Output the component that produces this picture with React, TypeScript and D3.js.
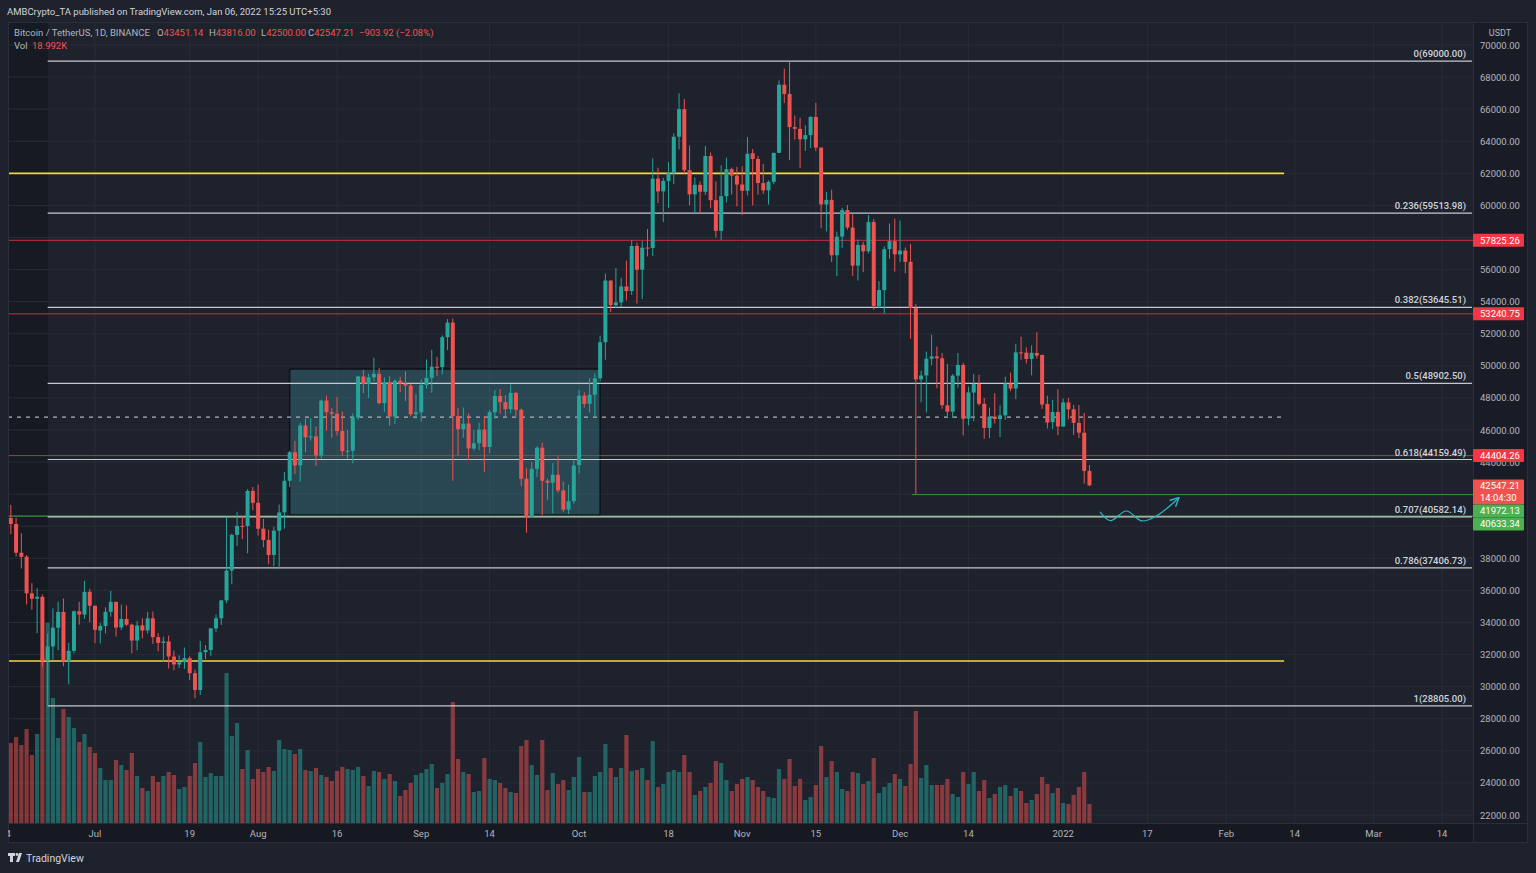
import { useEffect, useRef } from "react";
import * as d3 from "d3";

// daily candles, BTCUSDT, 2021-06-14 .. 2022-01-06
const firstDay = "2021-06-14";

const opens = [
  39097, 40516, 40143, 38349, 38100, 35820, 35483, 35600, 31614, 32509, 33675, 34663, 31576, 32233, 34700, 34494, 35912,
  35045, 33503, 33786, 34668, 35288, 33690, 34221, 33863, 32875, 33824, 33502, 34259, 33086, 32730, 32820, 31874, 31383, 31520, 31779, 30838, 29790, 32144, 32287, 33634, 34261, 35381, 37241, 39456, 40019, 40018, 42206,
  41461, 39850, 39146, 38207, 39723, 40865, 42832, 44614, 43794, 46280, 45543, 45603, 44415, 47835, 47110, 47015, 45937, 44687, 44709, 46770, 49340, 48867, 49284, 49507, 47674, 48973, 46843, 49070, 48896, 48767, 46982,
  47100, 48811, 49246, 49942, 49921, 51786, 52698, 46869, 46048, 46396, 44842, 45174, 46026, 44940, 47103, 48122, 47737, 47299, 48314, 47255, 42966, 40584, 43580, 44896, 42840, 42716, 43208, 42236, 41035, 41565,
  43820, 48142, 47633, 48200, 49224, 51471, 55315, 53785, 53955, 54949, 54659, 57471, 55996, 57370, 57347, 61672, 60875, 61528, 62005, 64280, 66002, 62193, 60689, 61286, 60852, 63079, 60328, 58413, 60575, 62253, 61859,
  61300, 60911, 63254, 62896, 61395, 60940, 61470, 63274, 67525, 66947, 64883, 64774, 64122, 64381, 65520, 63606, 60059, 60345, 56892, 58057, 59707, 58617, 56247, 57541, 57138, 58960, 53723, 54716, 57274, 57776,
  56951, 57185, 56485, 53601, 49153, 49397, 50441, 50588, 50472, 47535, 47141, 49389, 50053, 46702, 48336, 48864, 47633, 46134, 46835, 46681, 46914, 48887, 48588, 50839, 50820, 50428, 50802, 50679, 47623, 46490, 47120,
  46216, 47722, 47286, 46446, 45832, 43451.14,
];
const highs = [
  41064, 41330, 40527, 39560, 38203, 36457, 36137, 35750, 33298, 34881, 35298, 35500, 32730, 34750, 35297, 36600, 36100,
  35057, 33977, 34945, 35967, 35293, 35118, 35059, 33917, 34100, 34262, 34666, 34679, 33340, 33114, 33185, 32249, 31955, 32435, 31899, 31063, 32859, 32591, 33650, 34500, 35398, 40550, 39542, 40900, 40640, 42316, 42448,
  42599, 40456, 39780, 39969, 41350, 43392, 44700, 45310, 46454, 46700, 46743, 46218, 47887, 48144, 47373, 48053, 47160, 46000, 47033, 49382, 49757, 49500, 50500, 49876, 49277, 49352, 49149, 49307, 49653, 48888, 48246,
  49150, 50400, 51000, 50558, 51900, 52920, 52944, 47376, 47399, 47034, 45987, 46460, 46876, 47250, 48487, 48557, 48170, 48843, 48372, 47347, 43639, 44000, 44978, 45200, 42967, 43937, 44350, 42787, 42590, 44141,
  48495, 48353, 49228, 49536, 51886, 55750, 55333, 56100, 55489, 56561, 57839, 57680, 57777, 58532, 62933, 62350, 61720, 62695, 64486, 67000, 66639, 63732, 61747, 61500, 63710, 63293, 61497, 62499, 62980, 62359, 62405,
  62437, 64270, 63516, 63086, 62595, 61560, 63286, 67789, 68525, 69000, 65600, 65460, 64990, 65550, 66401, 63617, 60840, 60977, 58367, 59846, 60029, 59444, 57875, 57735, 59398, 59150, 55280, 57445, 58865, 59176,
  59053, 57375, 57600, 53859, 49699, 50891, 51936, 51200, 50797, 50125, 49485, 50800, 50189, 48700, 49500, 49436, 47995, 47392, 48300, 47537, 49328, 49576, 51375, 51810, 51156, 51280, 52088, 50704, 48139, 47879, 48548,
  47954, 47990, 47570, 47557, 47070, 43816,
];
const lows = [
  38730, 39506, 38116, 37365, 35129, 34803, 33336, 31251, 28805, 31683, 32286, 31275, 30151, 32071, 33862, 34225, 34017,
  32712, 32700, 33316, 34357, 33125, 33533, 33777, 32081, 32261, 33005, 33306, 32658, 32202, 31550, 31133, 31020, 31164, 31108, 30408, 29278, 29482, 31708, 31925, 33402, 33851, 35205, 36383, 38772, 39200, 38313, 41000,
  39422, 38690, 37642, 37508, 37332, 39853, 42446, 43261, 42779, 44613, 45341, 43770, 44218, 45971, 45525, 45660, 44376, 44203, 43927, 46622, 48290, 48000, 49034, 47600, 47126, 46250, 46361, 48370, 47801, 46853, 46700,
  46512, 48584, 48316, 49370, 49462, 50969, 42843, 44412, 45514, 44132, 44722, 44742, 43370, 44550, 46719, 47021, 46750, 47033, 46830, 42500, 39600, 40565, 43069, 40675, 41646, 40803, 42098, 40888, 40753, 41410,
  43283, 47400, 47088, 46891, 49022, 50382, 53357, 53617, 53661, 54080, 54416, 53879, 54167, 56818, 56850, 60150, 58963, 59844, 61322, 63481, 62000, 60000, 59562, 59510, 60650, 59817, 58000, 57820, 60174, 60673, 59945,
  59405, 60624, 60000, 60677, 60721, 60050, 61322, 63273, 66382, 62822, 64100, 62333, 63400, 63576, 63400, 58574, 58373, 56475, 55600, 57353, 58486, 55610, 55317, 55837, 57000, 53500, 53610, 53256, 56666, 55875,
  56458, 55777, 51680, 42000, 47727, 47100, 50039, 48600, 47320, 46852, 46751, 48638, 45672, 46290, 46547, 47511, 45456, 45500, 46406, 45558, 46630, 48421, 47920, 50384, 50142, 49412, 50449, 47313, 46096, 46060, 45678,
  46208, 46654, 45696, 45500, 42645, 42500,
];
const closes = [
  40519, 40144, 38349, 38092, 35820, 35483, 35600, 31608, 32509, 33678, 34663, 31584, 32233, 34700, 34494, 35911, 35046,
  33543, 33786, 34669, 35286, 33690, 34220, 33863, 32875, 33815, 33502, 34259, 33086, 32730, 32820, 31880, 31383, 31520, 31779, 30839, 29790, 32144, 32287, 33634, 34259, 35381, 37237, 39457, 40019, 40016, 42206, 41461,
  39845, 39147, 38207, 39723, 40862, 42836, 44614, 43792, 46285, 45543, 45602, 44415, 47833, 47110, 47015, 45937, 44686, 44709, 46765, 49340, 48867, 49285, 49507, 47674, 48973, 46843, 49069, 48895, 48767, 46982, 47100,
  48810, 49247, 49942, 49923, 51785, 52698, 46869, 46048, 46395, 44851, 45174, 46025, 44940, 47112, 48122, 47738, 47299, 48314, 47255, 42965, 40588, 43580, 44895, 42840, 42716, 43208, 42235, 41034, 41564, 43790,
  48141, 47634, 48200, 49224, 51471, 55315, 53785, 53951, 54949, 54659, 57471, 55996, 57367, 57347, 61672, 60875, 61528, 62010, 64280, 66002, 62194, 60688, 61286, 60852, 63078, 60328, 58413, 60575, 62253, 61859, 61300,
  60911, 63219, 62896, 61395, 60937, 61470, 63273, 67525, 66947, 64882, 64774, 64122, 64380, 65519, 63606, 60058, 60345, 56891, 58052, 59707, 58623, 56247, 57541, 57138, 58960, 53726, 54721, 57274, 57776, 56950,
  57184, 56480, 53601, 49152, 49397, 50441, 50589, 50471, 47545, 47140, 49389, 50053, 46702, 48343, 48864, 47632, 46131, 46834, 46681, 46914, 48890, 48588, 50838, 50821, 50429, 50809, 50640, 47588, 46464, 47120, 46216,
  47722, 47286, 46446, 45833, 43451, 42547.21,
];
// volume in thousands of BTC
const volumes = [
  70, 80, 86, 78, 94, 68, 89, 166, 200, 125, 85, 114, 106, 95, 81, 89, 76,
  70, 55, 43, 43, 63, 58, 53, 70, 47, 35, 32, 47, 41, 47, 51, 48, 34, 36, 47, 60, 81, 46, 50, 47, 47, 150, 87, 100, 54, 73, 44,
  54, 51, 56, 52, 83, 74, 73, 69, 74, 53, 52, 55, 48, 46, 42, 52, 56, 54, 53, 56, 47, 37, 52, 51, 44, 49, 42, 27, 33, 40, 48,
  50, 54, 59, 35, 40, 49, 121, 64, 51, 49, 31, 32, 65, 44, 43, 40, 35, 31, 30, 77, 83, 58, 48, 83, 33, 50, 39, 43, 33, 46,
  66, 31, 31, 47, 51, 79, 55, 46, 55, 88, 52, 53, 55, 43, 82, 36, 39, 51, 53, 51, 68, 51, 28, 32, 36, 40, 62, 60, 43, 32, 39,
  44, 46, 43, 36, 32, 26, 25, 54, 44, 64, 37, 44, 23, 26, 38, 77, 46, 62, 51, 34, 32, 51, 50, 39, 42, 65, 30, 36, 40, 49,
  44, 37, 59, 112, 45, 58, 38, 38, 38, 44, 29, 26, 51, 39, 51, 32, 43, 25, 29, 36, 38, 27, 35, 32, 20, 23, 29, 46, 39, 30, 35,
  20, 19, 28, 36, 51, 19,
];

const tickDates = ["2021-06-14", "2021-07-01", "2021-07-19", "2021-08-01", "2021-08-16", "2021-09-01", "2021-09-14", "2021-10-01", "2021-10-18", "2021-11-01", "2021-11-15", "2021-12-01", "2021-12-14", "2022-01-01", "2022-01-17", "2022-02-01", "2022-02-14", "2022-03-01", "2022-03-14"];
const tickLabels = ["14", "Jul", "19", "Aug", "16", "Sep", "14", "Oct", "18", "Nov", "15", "Dec", "14", "2022", "17", "Feb", "14", "Mar", "14"];

const fibRatios = ["0", "0.236", "0.382", "0.5", "0.618", "0.707", "0.786", "1"];
const fibPrices = [69000, 59513.98, 53645.51, 48902.5, 44159.49, 40582.14, 37406.73, 28805];

const redLevels = [57825.26, 53240.75, 44404.26];
const yellowLevels = [62000, 31600];
const dashedLevel = 46800;
const greenLevels = [40633.34];
const rayLevel = 41972.13;
const lastPrice = 42547.21;

const boxDates = ["2021-08-07", "2021-10-05"];
const boxPrices = [49800, 40700];

const waveDates = ["2022-01-08", "2022-01-10", "2022-01-13", "2022-01-16", "2022-01-19", "2022-01-23"];
const wavePrices = [40900, 40350, 40950, 40330, 40700, 41780];

const UP = "#26a69a";
const DOWN = "#ef5350";

export default function App() {
  const ref = useRef<SVGSVGElement>(null);

  useEffect(() => {
    if (!ref.current) return;
    const svg = d3.select(ref.current);
    svg.selectAll("*").remove();

    const parse = d3.utcParse("%Y-%m-%d");
    const start = parse(firstDay)!;
    const dates = opens.map((_, i) => d3.utcDay.offset(start, i));

    const left = 8, right = 1473, top = 22, bottom = 823;

    const x = d3.scaleUtc()
      .domain([parse("2021-07-01")!, parse("2022-03-14")!])
      .range([95, 1442]);
    const y = d3.scaleLinear().domain([22000, 70000]).range([815, 45]);
    const yv = d3.scaleLinear().domain([0, 150]).range([bottom, 673]);

    const font = "Roboto, 'Noto Sans', sans-serif";

    svg.append("rect").attr("width", 1536).attr("height", 873).attr("fill", "#1e222d");

    const defs = svg.append("defs");
    defs.append("clipPath").attr("id", "plot")
      .append("rect").attr("x", left).attr("y", top).attr("width", right - left).attr("height", bottom - top);
    defs.append("clipPath").attr("id", "xaxis")
      .append("rect").attr("x", left).attr("y", bottom).attr("width", right - left).attr("height", 22);
    defs.append("marker").attr("id", "arrowhead")
      .attr("viewBox", "0 0 10 10").attr("refX", 9).attr("refY", 5)
      .attr("markerWidth", 9).attr("markerHeight", 9).attr("orient", "auto")
      .append("path").attr("d", "M1,1 L9,5 L1,9").attr("fill", "none")
      .attr("stroke", "#2cb5c9").attr("stroke-width", 1.3);

    // panel background + darker strip on the left
    svg.append("rect").attr("x", left).attr("y", top).attr("width", right - left).attr("height", bottom - top)
      .attr("fill", "#1e222d");
    svg.append("rect").attr("x", left).attr("y", top).attr("width", 40).attr("height", bottom - top)
      .attr("fill", "#161a23");

    const plot = svg.append("g").attr("clip-path", "url(#plot)");

    // grid
    plot.selectAll(".hgrid")
      .data(d3.range(22000, 70001, 2000))
      .enter().append("line")
      .attr("x1", left).attr("x2", right)
      .attr("y1", d => y(d)).attr("y2", d => y(d))
      .attr("stroke", "#282c37").attr("stroke-width", 1);
    plot.selectAll(".vgrid")
      .data(tickDates)
      .enter().append("line")
      .attr("x1", d => x(parse(d)!)).attr("x2", d => x(parse(d)!))
      .attr("y1", top).attr("y2", bottom)
      .attr("stroke", "#282c37").attr("stroke-width", 1);

    // volume
    plot.selectAll(".vol")
      .data(volumes)
      .enter().append("rect")
      .attr("x", (d, i) => x(dates[i]) - 2.1)
      .attr("width", 4.2)
      .attr("y", d => yv(d))
      .attr("height", d => bottom - yv(d))
      .attr("fill", (d, i) => closes[i] >= opens[i] ? UP : DOWN)
      .attr("opacity", 0.5);

    // range box
    const bx0 = x(parse(boxDates[0])!), bx1 = x(parse(boxDates[1])!);
    plot.append("rect")
      .attr("x", bx0).attr("y", y(boxPrices[0]))
      .attr("width", bx1 - bx0).attr("height", y(boxPrices[1]) - y(boxPrices[0]))
      .attr("fill", "rgba(77,182,200,0.25)")
      .attr("stroke", "#101218").attr("stroke-width", 1.5);

    const endShort = x(parse("2022-02-12")!);
    const fibStart = x(dates[8]);

    // horizontal levels
    plot.selectAll(".yellow").data(yellowLevels).enter().append("line")
      .attr("x1", left).attr("x2", endShort)
      .attr("y1", d => y(d)).attr("y2", d => y(d))
      .attr("stroke", "#f2d83b").attr("stroke-width", 1.6);
    plot.append("line")
      .attr("x1", left).attr("x2", endShort)
      .attr("y1", y(dashedLevel)).attr("y2", y(dashedLevel))
      .attr("stroke", "#aeb2bb").attr("stroke-width", 1.4).attr("stroke-dasharray", "4,5");
    plot.selectAll(".red").data(redLevels).enter().append("line")
      .attr("x1", left).attr("x2", right)
      .attr("y1", d => y(d)).attr("y2", d => y(d))
      .attr("stroke", "#c2323c").attr("stroke-width", 1);
    plot.selectAll(".green").data(greenLevels).enter().append("line")
      .attr("x1", left).attr("x2", right)
      .attr("y1", d => y(d)).attr("y2", d => y(d))
      .attr("stroke", "#4caf50").attr("stroke-width", 1);
    plot.append("line")
      .attr("x1", x(dates[173]) - 4).attr("x2", right)
      .attr("y1", y(rayLevel)).attr("y2", y(rayLevel))
      .attr("stroke", "#3f8f45").attr("stroke-width", 1);
    plot.selectAll(".fib").data(fibPrices).enter().append("line")
      .attr("x1", fibStart).attr("x2", right - 1)
      .attr("y1", d => y(d)).attr("y2", d => y(d))
      .attr("stroke", "#c5c8cf").attr("stroke-width", 1.2);

    // candles
    const candles = plot.selectAll(".candle")
      .data(opens)
      .enter().append("g");
    candles.append("line")
      .attr("x1", (d, i) => x(dates[i])).attr("x2", (d, i) => x(dates[i]))
      .attr("y1", (d, i) => y(highs[i])).attr("y2", (d, i) => y(lows[i]))
      .attr("stroke", (d, i) => closes[i] >= opens[i] ? UP : DOWN)
      .attr("stroke-width", 1);
    candles.append("rect")
      .attr("x", (d, i) => x(dates[i]) - 2)
      .attr("width", 4)
      .attr("y", (d, i) => y(Math.max(opens[i], closes[i])))
      .attr("height", (d, i) => Math.max(1, Math.abs(y(opens[i]) - y(closes[i]))))
      .attr("fill", (d, i) => closes[i] >= opens[i] ? UP : DOWN);

    // fib labels
    plot.selectAll(".fibLabel").data(fibPrices).enter().append("text")
      .attr("x", 1466).attr("y", d => y(d) - 4)
      .attr("text-anchor", "end")
      .attr("fill", "#d1d4dc").attr("font-size", 9.5).attr("font-family", font).attr("font-weight", 500)
      .text((d, i) => `${fibRatios[i]}(${d3.format(".2f")(d)})`);

    // expected path
    const wave = d3.line<number>()
      .x((d, i) => x(parse(waveDates[i])!))
      .y(d => y(d))
      .curve(d3.curveCatmullRom);
    plot.append("path")
      .attr("d", wave(wavePrices))
      .attr("fill", "none").attr("stroke", "#2cb5c9").attr("stroke-width", 1.2)
      .attr("marker-end", "url(#arrowhead)");

    // price axis panel
    svg.append("rect").attr("x", right).attr("y", top).attr("width", 55).attr("height", 843 - top)
      .attr("fill", "#191c26");
    svg.append("rect").attr("x", left).attr("y", bottom).attr("width", right - left).attr("height", 20)
      .attr("fill", "#161922");
    svg.append("line").attr("x1", right + 0.5).attr("x2", right + 0.5).attr("y1", top).attr("y2", 843)
      .attr("stroke", "#2a2e39");
    svg.append("line").attr("x1", left).attr("x2", 1528).attr("y1", bottom + 0.5).attr("y2", bottom + 0.5)
      .attr("stroke", "#2a2e39");
    svg.append("rect").attr("x", left + 0.5).attr("y", top + 0.5).attr("width", 1528 - left - 1).attr("height", 843 - top - 1)
      .attr("fill", "none").attr("stroke", "#2a2e39");

    // axis tags (price boxes) – positions first so hidden ticks can be skipped
    type Tag = { lines: string[]; color: string; top: number };
    const tags: Tag[] = [
      ...redLevels.map(p => ({ lines: [d3.format(".2f")(p)], color: "#f23645", top: y(p) - 6.5 })),
      { lines: [d3.format(".2f")(lastPrice), "14:04:30"], color: "#ef5350", top: y(lastPrice) - 6 },
      { lines: [d3.format(".2f")(rayLevel)], color: "#4caf50", top: y(lastPrice) + 19 },
      ...greenLevels.map(p => ({ lines: [d3.format(".2f")(p)], color: "#4caf50", top: y(lastPrice) + 32 })),
    ];
    const covered = (v: number) => tags.some(t => {
      const yy = y(v);
      return yy >= t.top + 2 && yy <= t.top + 12 * t.lines.length - 1;
    });

    const yAxis = d3.axisRight(y)
      .tickValues(d3.range(22000, 70001, 2000).filter(v => !covered(v)))
      .tickFormat(d3.format(".2f"))
      .tickSize(0).tickPadding(7);
    const ya = svg.append("g").attr("transform", `translate(${right},0)`).call(yAxis);
    ya.select(".domain").remove();
    ya.selectAll("text").attr("fill", "#b2b5be").attr("font-size", 9.5).attr("font-family", font);

    svg.append("text").attr("x", 1500).attr("y", 36).attr("text-anchor", "middle")
      .attr("fill", "#b2b5be").attr("font-size", 9).attr("font-family", font).text("USDT");

    tags.forEach(t => {
      const h = 12 * t.lines.length + 1;
      svg.append("rect").attr("x", right).attr("y", t.top).attr("width", 51).attr("height", h)
        .attr("fill", t.color).attr("rx", 1);
      t.lines.forEach((s, k) => {
        svg.append("text").attr("x", right + 7).attr("y", t.top + 10 + k * 12)
          .attr("fill", "#ffffff").attr("font-size", 9.5).attr("font-family", font).text(s);
      });
    });

    // time axis
    const xa = svg.append("g").attr("clip-path", "url(#xaxis)");
    xa.selectAll("text").data(tickDates).enter().append("text")
      .attr("x", d => x(parse(d)!)).attr("y", 837)
      .attr("text-anchor", "middle")
      .attr("fill", "#b2b5be").attr("font-size", 9.5).attr("font-family", font)
      .text((d, i) => tickLabels[i]);

    // legend
    const legend = svg.append("text").attr("x", 14).attr("y", 36)
      .attr("font-size", 9.5).attr("font-family", font).attr("fill", "#b2b5be");
    legend.append("tspan").text("Bitcoin / TetherUS, 1D, BINANCE");
    const ohlc: [string, string, number][] = [
      ["O", "43451.14", 157], ["H", "43816.00", 209], ["L", "42500.00", 261], ["C", "42547.21", 308],
    ];
    ohlc.forEach(([k, v, px]) => {
      legend.append("tspan").attr("x", px).text(k);
      legend.append("tspan").attr("fill", "#ef5350").text(v);
    });
    legend.append("tspan").attr("x", 359).attr("fill", "#ef5350").text("\u2212903.92 (\u22122.08%)");

    const vol = svg.append("text").attr("x", 14).attr("y", 49)
      .attr("font-size", 9.5).attr("font-family", font).attr("fill", "#b2b5be");
    vol.append("tspan").text("Vol");
    vol.append("tspan").attr("x", 32).attr("fill", "#ef5350").text("18.992K");

    svg.append("text").attr("x", 7).attr("y", 15)
      .attr("font-size", 9.5).attr("font-family", font).attr("fill", "#d1d4dc")
      .text("AMBCrypto_TA published on TradingView.com, Jan 06, 2022 15:25 UTC+5:30");

    // footer logo
    const logo = svg.append("g").attr("fill", "#d1d4dc");
    logo.append("path").attr("d", "M8,853 h7 v3 h-2 v6 h-3 v-6 h-2 z");
    logo.append("circle").attr("cx", 17).attr("cy", 854.5).attr("r", 1.4);
    logo.append("path").attr("d", "M19,853 h3 l-3,9 h-3 z");
    svg.append("text").attr("x", 26).attr("y", 862)
      .attr("font-size", 10.5).attr("font-family", font).attr("fill", "#d1d4dc").text("TradingView");
  }, []);

  return (
    <svg
      ref={ref}
      width={1536}
      height={873}
      style={{ position: "fixed", left: 0, top: 0, display: "block" }}
    />
  );
}
